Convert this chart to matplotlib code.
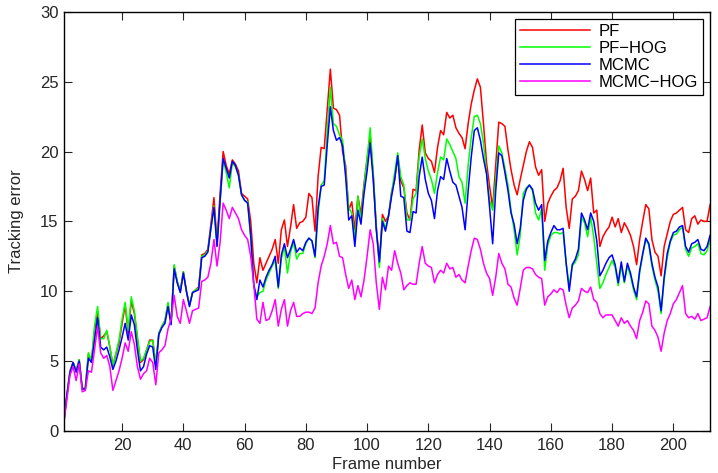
import matplotlib as mpl
import matplotlib.pyplot as plt
import numpy as np

mpl.rcParams.update({'font.size': 12, 'font.family': ['Liberation Sans', 'DejaVu Sans']})

# tracking error per frame, frames 1..212
pf = [0.7, 2.6, 4.3, 4.9, 4.3, 5.1, 3.0, 3.1, 5.5, 5.0,
      7.2, 8.5, 6.6, 6.8, 7.1, 6.0, 4.7, 5.5, 6.3, 7.7,
      9.0, 7.0, 9.3, 8.4, 6.6, 4.9, 5.1, 5.8, 6.5, 6.5,
      4.7, 7.0, 7.5, 7.9, 9.1, 7.7, 11.8, 10.7, 10.0, 11.4,
      10.0, 9.0, 9.9, 10.1, 10.3, 12.6, 12.7, 13.0, 14.8, 16.7,
      13.5, 17.0, 20.0, 19.0, 18.4, 19.4, 19.1, 18.6, 17.0, 16.8,
      16.6, 15.0, 12.0, 10.6, 12.4, 11.5, 12.0, 12.5, 13.0, 13.7,
      12.0, 14.4, 15.1, 13.2, 14.6, 16.2, 14.5, 14.9, 15.0, 15.3,
      17.0, 16.7, 14.3, 18.2, 20.3, 20.2, 23.0, 25.9, 23.1, 23.0,
      22.6, 20.0, 19.0, 15.8, 16.4, 14.4, 16.8, 15.5, 17.7, 19.5,
      21.0, 18.3, 14.6, 12.0, 15.5, 15.0, 15.4, 17.1, 18.0, 19.7,
      17.9, 17.4, 15.6, 15.1, 17.3, 17.2, 20.1, 21.9, 19.9, 19.5,
      19.3, 18.5, 20.3, 21.5, 21.2, 22.8, 22.4, 22.6, 21.7, 21.3,
      21.0, 20.2, 22.0, 23.4, 24.4, 25.2, 24.6, 22.0, 19.2, 17.5,
      16.0, 19.0, 22.1, 22.0, 21.8, 20.1, 18.7, 17.6, 16.9, 18.0,
      19.0, 20.0, 20.7, 20.3, 18.9, 18.3, 18.7, 15.0, 16.3, 16.8,
      17.2, 17.4, 17.9, 18.8, 16.0, 14.5, 16.6, 16.8, 17.2, 18.6,
      18.0, 17.2, 18.1, 15.6, 15.8, 13.2, 13.9, 14.3, 14.6, 15.3,
      14.6, 15.2, 14.2, 14.9, 14.5, 14.0, 13.2, 11.9, 13.7, 15.0,
      16.2, 15.9, 13.7, 12.8, 12.5, 11.1, 13.2, 14.1, 15.0, 15.5,
      15.6, 15.8, 16.0, 14.4, 14.2, 15.2, 15.4, 14.8, 15.1, 15.0,
      15.0, 16.2]

pf_hog = [0.7, 2.6, 4.3, 4.9, 4.3, 5.1, 3.0, 3.1, 5.6, 5.0,
          7.5, 8.9, 6.6, 6.6, 7.2, 6.0, 4.7, 5.6, 6.5, 8.0,
          9.2, 7.2, 9.6, 8.6, 6.8, 5.0, 5.2, 5.8, 6.4, 6.5,
          4.8, 7.0, 7.5, 7.9, 9.2, 7.7, 11.9, 10.7, 10.0, 11.4,
          10.0, 9.0, 9.9, 10.1, 10.2, 12.5, 12.6, 12.9, 14.5, 16.1,
          13.3, 16.3, 19.4, 18.5, 17.4, 19.2, 18.9, 18.3, 16.9, 16.5,
          16.4, 13.8, 10.3, 9.6, 9.9, 10.0, 10.8, 11.3, 11.8, 12.2,
          10.2, 12.3, 13.2, 11.3, 12.8, 13.5, 12.3, 12.7, 12.7, 13.4,
          13.8, 13.6, 12.4, 15.5, 17.6, 17.9, 21.5, 24.6, 22.0, 21.8,
          21.2, 20.8, 18.5, 16.0, 15.6, 13.6, 16.8, 15.0, 17.5, 19.5,
          21.7, 18.5, 14.6, 11.7, 15.2, 14.5, 15.4, 17.0, 18.5, 19.9,
          18.2, 17.6, 15.1, 15.1, 16.6, 17.0, 19.6, 20.9, 19.5, 18.6,
          18.0, 17.0, 18.5, 19.6, 19.4, 20.9, 20.5, 20.0, 19.5, 18.2,
          17.8, 16.3, 19.0, 21.0, 22.5, 22.6, 22.0, 20.6, 18.5, 16.5,
          15.8, 18.0, 20.4, 19.9, 18.8, 17.6, 15.8, 14.4, 12.6, 14.0,
          17.0, 17.4, 17.6, 17.2, 15.6, 15.1, 15.9, 11.5, 13.3, 14.0,
          14.2, 14.2, 14.1, 14.2, 12.0, 10.4, 11.8, 12.1, 12.6, 15.3,
          14.9, 13.9, 15.3, 13.9, 12.0, 10.2, 10.6, 11.2, 11.7, 12.2,
          11.7, 10.4, 11.8, 10.6, 11.8, 11.1, 10.1, 9.4, 11.3, 12.6,
          13.7, 13.3, 11.8, 10.8, 10.0, 8.4, 10.8, 12.4, 13.5, 14.0,
          14.1, 14.4, 14.6, 13.0, 12.5, 13.1, 13.2, 13.4, 12.7, 12.6,
          12.9, 13.7]

mcmc = [0.7, 2.6, 4.2, 4.9, 4.2, 5.0, 3.0, 3.0, 5.2, 4.9,
        6.5, 8.1, 6.0, 5.8, 6.0, 5.3, 4.4, 5.0, 5.8, 6.7,
        7.7, 6.5, 8.3, 7.6, 5.8, 4.3, 4.6, 5.5, 6.1, 6.0,
        4.4, 6.9, 7.4, 7.7, 8.9, 7.6, 11.6, 10.6, 9.9, 11.3,
        10.0, 8.9, 9.9, 10.0, 10.1, 12.4, 12.5, 12.8, 14.5, 16.0,
        13.2, 16.5, 19.5, 18.8, 18.1, 19.3, 19.0, 18.3, 16.9, 16.5,
        16.3, 14.0, 10.5, 9.4, 10.8, 10.3, 11.0, 11.5, 11.9, 12.5,
        10.3, 12.6, 13.4, 12.4, 13.0, 13.7, 12.8, 13.1, 12.9, 13.5,
        13.8, 13.6, 12.5, 16.0, 17.5, 17.6, 20.5, 23.2, 21.5, 20.8,
        21.0, 20.4, 18.2, 15.1, 15.4, 13.2, 15.8, 14.8, 17.0, 18.6,
        20.6, 18.0, 14.4, 12.1, 15.0, 14.3, 15.4, 16.8, 18.0, 19.7,
        16.8, 16.7, 14.3, 14.2, 15.7, 15.6, 18.2, 19.6, 18.0, 17.0,
        16.5, 15.2, 17.2, 18.2, 18.0, 19.5, 18.6, 17.8, 17.6, 16.8,
        16.0, 14.4, 17.2, 19.6, 21.5, 21.7, 20.8, 19.5, 18.4, 16.0,
        13.4, 17.2, 19.9, 19.7, 18.5, 17.2, 15.6, 14.8, 13.4, 14.5,
        16.5, 17.3, 17.6, 17.3, 16.3, 15.8, 16.2, 12.2, 13.6, 14.2,
        14.7, 14.4, 14.4, 14.5, 12.0, 10.0, 11.9, 12.3, 13.0, 15.6,
        15.1, 14.4, 15.6, 15.0, 13.6, 11.1, 11.5, 12.0, 12.4, 12.6,
        11.9, 10.6, 12.1, 10.7, 12.0, 11.3, 10.3, 9.6, 11.5, 12.7,
        13.8, 13.4, 12.0, 11.0, 10.3, 8.6, 11.0, 12.7, 13.6, 14.2,
        14.3, 14.6, 14.7, 13.2, 12.8, 13.4, 13.5, 13.7, 13.0, 12.9,
        13.2, 14.0]

mcmc_hog = [0.6, 2.3, 4.0, 4.6, 3.6, 4.8, 2.8, 2.9, 4.3, 4.2,
            5.8, 7.5, 5.6, 5.2, 5.4, 4.6, 2.9, 3.6, 4.3, 5.2,
            6.3, 5.7, 7.1, 6.2, 4.6, 3.7, 4.1, 4.3, 5.2, 4.9,
            3.3, 5.6, 5.8, 6.1, 7.3, 8.0, 9.7, 8.2, 7.7, 9.4,
            8.6, 7.7, 8.6, 8.7, 8.8, 10.7, 10.8, 11.0, 12.0, 13.7,
            11.8, 13.5, 16.3, 15.8, 15.2, 16.0, 15.6, 15.2, 14.4, 14.0,
            13.7, 12.5, 10.5, 8.0, 7.7, 9.2, 7.9, 8.0, 8.6, 9.4,
            7.5, 8.7, 9.4, 7.5, 8.6, 9.2, 8.2, 8.2, 8.4, 8.5,
            8.5, 8.4, 8.8, 10.6, 11.8, 12.5, 13.4, 14.7, 13.4, 13.5,
            12.5, 12.4, 11.2, 10.2, 10.8, 9.4, 10.4, 9.6, 10.8, 12.5,
            14.4, 13.4, 10.6, 8.7, 11.0, 10.1, 11.8, 11.5, 12.9, 12.0,
            11.3, 10.1, 10.4, 10.6, 10.5, 10.5, 12.0, 13.2, 12.0, 11.8,
            11.7, 10.6, 11.2, 11.5, 11.3, 12.0, 11.6, 11.7, 11.0, 11.2,
            10.8, 10.6, 11.8, 12.9, 13.8, 13.7, 13.0, 12.0, 11.3, 10.9,
            9.7, 11.0, 12.7, 12.0, 11.6, 10.5, 10.3, 9.5, 9.0, 10.2,
            11.5, 11.7, 11.7, 11.6, 11.2, 11.0, 10.9, 9.0, 9.6, 9.8,
            10.1, 9.9, 10.2, 10.1, 9.0, 8.1, 8.8, 9.0, 9.3, 10.2,
            10.0, 9.9, 10.3, 9.4, 9.2, 8.4, 8.1, 8.3, 8.3, 8.3,
            7.9, 7.5, 8.1, 7.7, 7.9, 7.5, 7.2, 6.6, 7.9, 8.5,
            9.3, 9.1, 7.5, 7.2, 6.7, 5.7, 7.0, 7.9, 8.4, 9.1,
            9.4, 9.9, 10.4, 8.4, 8.1, 8.2, 8.0, 8.4, 7.9, 8.0,
            8.1, 8.9]

frames = np.arange(1, len(pf) + 1)

dpi = 100
fig = plt.figure(dpi=dpi, figsize=(718 / dpi, 473 / dpi))
ax = fig.add_axes([0.089, 0.089, 0.9, 0.886])

ax.plot(frames, pf, color='#ff0000', linewidth=1.1, label='PF')
ax.plot(frames, pf_hog, color='#00ff00', linewidth=1.1, label='PF\u2212HOG')
ax.plot(frames, mcmc, color='#0000ff', linewidth=1.1, label='MCMC')
ax.plot(frames, mcmc_hog, color='#ff00ff', linewidth=1.1, label='MCMC\u2212HOG')

ax.set_xlim(1, len(pf))
ax.set_ylim(0, 30)
ax.set_xticks(np.arange(20, 201, 20))
ax.set_yticks(np.arange(0, 31, 5))
ax.tick_params(direction='in', top=True, right=True, length=6, width=0.8,
               labelsize=12, colors='#262626', pad=5)
ax.tick_params(axis='y', pad=4)
for s in ax.spines.values():
    s.set_linewidth(1.0)

ax.set_xlabel('Frame number', fontsize=12, color='#262626')
ax.set_ylabel('Tracking error', fontsize=12, color='#262626')
ax.xaxis.set_label_coords(0.5, -0.062)
ax.yaxis.set_label_coords(-0.061, 0.5)

leg = ax.legend(loc='upper right', fontsize=12, fancybox=False, framealpha=1,
                edgecolor='black', handlelength=4.2, borderpad=0.3,
                labelspacing=0.12, borderaxespad=0.45, handletextpad=0.5)
leg.get_frame().set_linewidth(0.9)

fig.savefig('out.png', dpi=dpi)
